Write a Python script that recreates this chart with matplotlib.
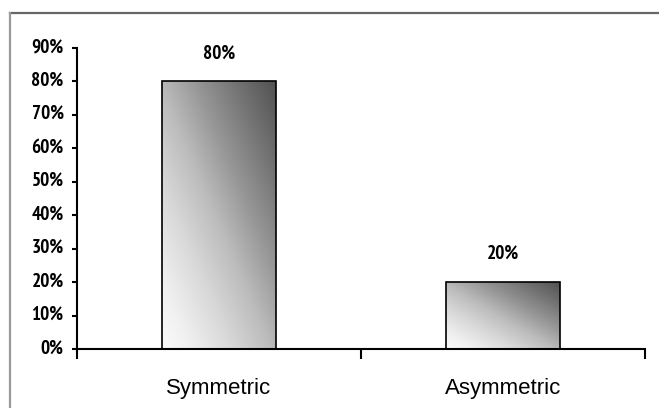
import matplotlib
matplotlib.use("Agg")
import matplotlib.pyplot as plt
import numpy as np
from matplotlib.lines import Line2D
from matplotlib.font_manager import FontProperties, fontManager
from matplotlib.textpath import TextPath
from matplotlib.transforms import ScaledTranslation

categories = ["Symmetric", "Asymmetric"]
values = [0.80, 0.20]
yticks = [0, 0.1, 0.2, 0.3, 0.4, 0.5, 0.6, 0.7, 0.8, 0.9]
ytick_labels = ["0%", "10%", "20%", "30%", "40%", "50%", "60%", "70%", "80%", "90%"]
value_labels = ["80%", "20%"]

# choose a narrow bold family whose "90%" shape is closest to the reference (31 px wide, 14 px tall)
candidates = ["PT Sans Narrow", "Roboto Condensed", "Barlow Condensed", "Fira Sans Condensed",
              "Archivo Narrow", "IBM Plex Sans Condensed", "Asap Condensed",
              "Fira Sans Extra Condensed", "Open Sans Condensed"]
installed = {f.name for f in fontManager.ttflist}
best, best_err, best_h = "DejaVu Sans", 1e9, 0.73
for name in candidates:
    if name not in installed:
        continue
    fp = FontProperties(family=name, weight="bold")
    ext = TextPath((0, 0), "90%", size=1, prop=fp).get_extents()
    hd = TextPath((0, 0), "90", size=1, prop=fp).get_extents().height
    ratio = ext.width / hd
    err = abs(ratio - 31.0 / 14.0)
    if err < best_err:
        best, best_err, best_h = name, err, hd
narrow = [best, "DejaVu Sans"]
nfs = (14.0 / best_h) * 72.0 / 100.0   # digit height about 14 px

fig = plt.figure(figsize=(6.59, 4.08), dpi=100)
ax = fig.add_axes([77/659, 1-349/408, (645-77)/659, (349-48)/408])

x = np.arange(len(categories))
bars = ax.bar(x, values, width=0.4, facecolor="none", edgecolor="black", linewidth=1.2, zorder=3)

# diagonal gradient fill: light bottom-left to dark top-right
n = 200
u = np.linspace(0, 1, n)
U, V = np.meshgrid(u, u)
grad = (U + V) / 2.0
for b in bars:
    x0, y0 = b.get_x(), b.get_y()
    w, h = b.get_width(), b.get_height()
    im = ax.imshow(grad, cmap="Greys", vmin=-0.05, vmax=1.35, origin="lower",
                   extent=(x0, x0 + w, y0, y0 + h), aspect="auto", zorder=2,
                   interpolation="bilinear")
    im.set_clip_path(b)

for xi, v, lab in zip(x, values, value_labels):
    ax.text(xi, v + 0.09, lab, ha="center", va="center_baseline", fontsize=nfs,
            fontweight="bold", family=narrow)

ax.set_xlim(-0.5, 1.5)
ax.set_ylim(0, 0.9)
ax.set_yticks(yticks)
ax.set_yticklabels(ytick_labels, fontsize=nfs, fontweight="bold", family=narrow)
ax.set_xticks([-0.5, 0.5, 1.5])
ax.set_xticklabels([])
ax.set_xticks(x, minor=True)
ax.set_xticklabels(categories, minor=True, fontsize=16, family="Liberation Sans")
ax.tick_params(axis="x", which="major", direction="out", length=7, width=1.5)
ax.tick_params(axis="x", which="minor", length=0, pad=21)
ax.tick_params(axis="y", direction="out", length=3.6, width=1.5, pad=6)

shift = ScaledTranslation(0, 2/72., fig.dpi_scale_trans)
for t in ax.get_yticklabels():
    t.set_transform(t.get_transform() + shift)

for s in ["top", "right"]:
    ax.spines[s].set_visible(False)
ax.spines["left"].set_linewidth(1.5)
ax.spines["bottom"].set_linewidth(1.5)

# outer frame lines (top and left)
fig.add_artist(Line2D([10/659, 1.0], [1-13/408, 1-13/408], transform=fig.transFigure,
                      color="#666666", linewidth=1.6))
fig.add_artist(Line2D([10/659, 10/659], [0, 1-13/408], transform=fig.transFigure,
                      color="#999999", linewidth=1.6))

fig.savefig("out.png", dpi=100)
